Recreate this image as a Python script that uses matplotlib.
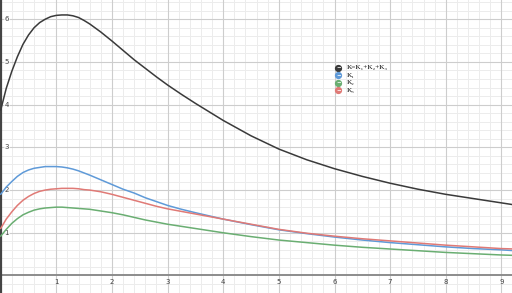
import numpy as np
import matplotlib.pyplot as plt

# sample positions (x) and values
x = [0, 0.1, 0.2, 0.3, 0.4, 0.5, 0.6, 0.7, 0.8, 0.9, 1.0, 1.1, 1.2, 1.3, 1.4, 1.5,
     1.6, 1.8, 2.0, 2.2, 2.4, 2.6, 2.8, 3.0, 3.25, 3.5, 4.0, 4.5, 5.0, 5.5, 6.0,
     6.5, 7.0, 7.5, 8.0, 8.5, 9.0, 9.25]

k_total = [3.87, 4.38, 4.78, 5.12, 5.41, 5.63, 5.80, 5.92, 6.00, 6.06, 6.09, 6.10,
           6.10, 6.08, 6.04, 5.97, 5.89, 5.70, 5.49, 5.27, 5.05, 4.85, 4.65, 4.46,
           4.24, 4.03, 3.63, 3.27, 2.96, 2.71, 2.50, 2.32, 2.16, 2.02, 1.90, 1.80,
           1.70, 1.65]
k1 = [1.90, 2.07, 2.20, 2.32, 2.41, 2.47, 2.51, 2.53, 2.55, 2.55, 2.55, 2.54, 2.52,
      2.49, 2.45, 2.40, 2.35, 2.24, 2.13, 2.02, 1.93, 1.82, 1.73, 1.64, 1.55, 1.47,
      1.32, 1.19, 1.07, 0.98, 0.90, 0.83, 0.77, 0.72, 0.67, 0.63, 0.60, 0.58]
k2 = [0.92, 1.08, 1.22, 1.33, 1.42, 1.48, 1.53, 1.56, 1.58, 1.59, 1.60, 1.60, 1.59,
      1.58, 1.57, 1.56, 1.55, 1.51, 1.47, 1.42, 1.36, 1.30, 1.25, 1.20, 1.15, 1.10,
      1.00, 0.91, 0.83, 0.77, 0.71, 0.66, 0.62, 0.58, 0.54, 0.51, 0.48, 0.47]
k3 = [1.10, 1.32, 1.49, 1.64, 1.76, 1.85, 1.92, 1.97, 2.00, 2.02, 2.03, 2.04, 2.04,
      2.04, 2.03, 2.01, 2.00, 1.96, 1.90, 1.83, 1.76, 1.69, 1.62, 1.56, 1.50, 1.44,
      1.32, 1.20, 1.08, 0.99, 0.92, 0.86, 0.81, 0.76, 0.71, 0.67, 0.63, 0.62]

x_ticks = [1, 2, 3, 4, 5, 6, 7, 8, 9]
y_ticks = [1, 2, 3, 4, 5, 6]
labels = ['K=K₁+K₂+K₃', 'K₁', 'K₂', 'K₃']

c_black = '#3a3a3a'
c_blue = '#5f9ad8'
c_green = '#6aae72'
c_red = '#e07a76'

fig = plt.figure(figsize=(5.12, 2.93), dpi=100)
ax = fig.add_axes([0, 0, 1, 1])
ax.set_xlim(-0.012, 9.19)
ax.set_ylim(-0.41, 6.45)
ax.axis('off')

# grid
for v in np.arange(-0.4, 6.5, 0.2):
    if abs(v - round(v)) > 1e-6:
        ax.axhline(v, color='#ececec', lw=0.7, zorder=0)
for v in np.arange(0.2, 9.3, 0.2):
    if abs(v - round(v)) > 1e-6:
        ax.axvline(v, color='#ececec', lw=0.7, zorder=0)
for v in y_ticks:
    ax.axhline(v, color='#cdcdcd', lw=0.8, zorder=1)
for v in x_ticks:
    ax.axvline(v, color='#cdcdcd', lw=0.8, zorder=1)
ax.axhline(0, color='#8c8c8c', lw=1.4, zorder=2)
ax.axvline(0, color='#444444', lw=1.6, zorder=2)

# tick labels
for v in x_ticks:
    ax.text(v, -0.08, str(v), ha='center', va='top', fontsize=5, color='#444444', zorder=3)
for v in y_ticks:
    ax.text(0.07, v, str(v), ha='left', va='center', fontsize=5, color='#444444', zorder=3,
            bbox=dict(boxstyle='square,pad=0.1', fc='white', ec='none', alpha=0.6))

# curves
kw = dict(lw=1.1, zorder=5, solid_joinstyle='round', solid_capstyle='round')
ax.plot(x, k_total, color=c_black, **kw)
ax.plot(x, k1, color=c_blue, **kw)
ax.plot(x, k3, color=c_red, **kw)
ax.plot(x, k2, color=c_green, **kw)

# legend
for i, (lab, col) in enumerate(zip(labels, [c_black, c_blue, c_green, c_red])):
    yy = 0.768 - i * 0.0255
    ax.plot([0.661], [yy], 'o', color=col, ms=4.2, transform=ax.transAxes, zorder=6)
    ax.text(0.661, yy, '~', color='white', fontsize=4, ha='center', va='center',
            transform=ax.transAxes, zorder=7, fontweight='bold')
    ax.text(0.678, yy, lab, fontsize=5.2, family=['Liberation Serif', 'DejaVu Serif'],
            ha='left', va='center', transform=ax.transAxes, zorder=6)

fig.savefig('out.png', dpi=100)
